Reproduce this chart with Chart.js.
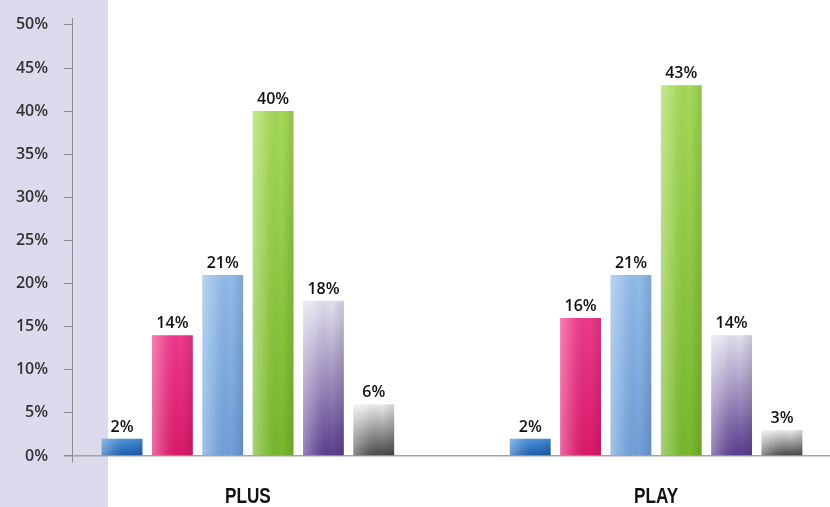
<!DOCTYPE html>
<html>
<head>
<meta charset="utf-8">
<script src="https://cdn.jsdelivr.net/npm/chart.js@4"></script>
<style>
  html, body { margin: 0; padding: 0; background: #fff; }
  canvas { display: block; }
</style>
</head>
<body>
<canvas id="mainChart" width="830" height="507"></canvas>
<script>
// groups on the x axis
const groups = ['PLUS', 'PLAY'];
// one series per bar colour, values in percent
const darkBlue = [2, 2];
const pink = [14, 16];
const lightBlue = [21, 21];
const green = [40, 43];
const purple = [18, 14];
const gray = [6, 3];
// y axis ticks
const yTicks = [0, 5, 10, 15, 20, 25, 30, 35, 40, 45, 50];

const labelFont = '600 16px "Open Sans", sans-serif';

// vertical gradient from bar top to the zero line
function vGrad(topColor, bottomColor) {
    return function (c) {
        const chart = c.chart;
        if (!chart.chartArea || c.type !== 'data') return bottomColor;
        const y = chart.scales.y;
        const top = y.getPixelForValue(c.parsed.y);
        const base = y.getPixelForValue(0);
        const g = chart.ctx.createLinearGradient(0, top, 0, base);
        g.addColorStop(0, topColor);
        g.addColorStop(1, bottomColor);
        return g;
    };
}

const sidePanel = {
    id: 'sidePanel',
    beforeDraw(chart) {
        const ctx = chart.ctx;
        ctx.save();
        ctx.fillStyle = '#ffffff';
        ctx.fillRect(0, 0, chart.width, chart.height);
        ctx.fillStyle = '#dddaee';
        ctx.fillRect(0, 0, 108, chart.height);
        ctx.restore();
    }
};

// glossy shading over each bar plus the value above it
const barDecor = {
    id: 'barDecor',
    afterDatasetsDraw(chart) {
        const ctx = chart.ctx;
        ctx.save();
        chart.data.datasets.forEach((ds, i) => {
            const meta = chart.getDatasetMeta(i);
            meta.data.forEach((bar, j) => {
                const left = bar.x - bar.width / 2;
                const g = ctx.createLinearGradient(left, 0, left + bar.width, 0);
                g.addColorStop(0, 'rgba(255,255,255,0.35)');
                g.addColorStop(0.3, 'rgba(255,255,255,0.12)');
                g.addColorStop(0.7, 'rgba(0,0,0,0)');
                g.addColorStop(1, 'rgba(0,0,0,0.12)');
                ctx.fillStyle = g;
                ctx.fillRect(left, bar.y, bar.width, bar.base - bar.y);

                ctx.fillStyle = '#111';
                ctx.font = labelFont;
                ctx.textAlign = 'center';
                ctx.textBaseline = 'alphabetic';
                ctx.fillText(ds.data[j] + '%', bar.x, bar.y - 7);
            });
        });
        ctx.restore();
    }
};

// condensed group names under the axis
const groupNames = {
    id: 'groupNames',
    afterDraw(chart) {
        const ctx = chart.ctx;
        const x = chart.scales.x;
        ctx.save();
        ctx.fillStyle = '#111';
        ctx.font = 'bold 22px "Liberation Sans", sans-serif';
        ctx.textAlign = 'center';
        ctx.textBaseline = 'alphabetic';
        groups.forEach((g, i) => {
            ctx.save();
            ctx.translate(x.getPixelForValue(i), 503);
            ctx.scale(0.78, 1);
            ctx.fillText(g, 0, 0);
            ctx.restore();
        });
        ctx.restore();
    }
};

const ctx = document.getElementById('mainChart').getContext('2d');
const mainChart = new Chart(ctx, {
    type: 'bar',
    data: {
        labels: groups.map((g, i) => i),
        datasets: [
            { label: 'A', data: darkBlue, backgroundColor: vGrad('#4d94dc', '#1a5cab') },
            { label: 'B', data: pink, backgroundColor: vGrad('#ee3a8c', '#dc1a6c') },
            { label: 'C', data: lightBlue, backgroundColor: vGrad('#93bcea', '#6f9fd9') },
            { label: 'D', data: green, backgroundColor: vGrad('#a6da58', '#78b82c') },
            { label: 'E', data: purple, backgroundColor: vGrad('#e4e1f0', '#5a3d8f') },
            { label: 'F', data: gray, backgroundColor: vGrad('#eeeeee', '#474747') }
        ]
    },
    options: {
        responsive: false,
        animation: false,
        devicePixelRatio: 1,
        categoryPercentage: 0.74,
        barPercentage: 0.81,
        layout: { padding: { top: 18, right: 0, left: 0, bottom: 45 } },
        plugins: {
            legend: { display: false },
            tooltip: { enabled: false }
        },
        scales: {
            x: {
                type: 'linear',
                offset: false,
                min: -0.431,
                max: 1.426,
                afterBuildTicks: s => { s.ticks = groups.map((g, i) => ({ value: i })); },
                ticks: { display: false },
                grid: { display: false, drawTicks: false, offset: false },
                border: { display: false }
            },
            y: {
                min: -0.7,
                max: 50.8,
                afterBuildTicks: s => { s.ticks = yTicks.map(v => ({ value: v })); },
                afterFit: s => {
                    s.width = 72;
                    s.paddingTop = 0;
                    s.paddingBottom = 0;
                },
                ticks: {
                    callback: v => v + '%',
                    padding: 16,
                    color: '#333',
                    font: { family: '"Open Sans", sans-serif', size: 16, weight: '600', lineHeight: 1 }
                },
                grid: {
                    color: c => (c.tick && c.tick.value === 0) ? '#a3a3a3' : 'rgba(0,0,0,0)',
                    lineWidth: c => (c.tick && c.tick.value === 0) ? 1.5 : 1,
                    tickColor: '#8c8c8c',
                    tickLength: 8
                },
                border: { color: '#8c8c8c', width: 1 }
            }
        }
    },
    plugins: [sidePanel, barDecor, groupNames]
});
</script>
</body>
</html>
